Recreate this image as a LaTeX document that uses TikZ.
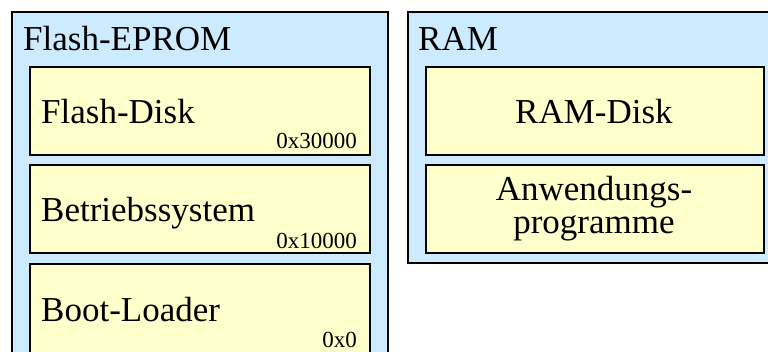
\documentclass[tikz,border=0pt]{standalone}
\usepackage{fontspec}
\setmainfont{Liberation Serif}
\definecolor{memblue}{HTML}{CCEBFF}
\definecolor{partyellow}{HTML}{FFFFCC}
\tikzset{
  memory/.style={draw=black, line width=1.6pt, fill=memblue, anchor=north west, inner sep=0pt},
  part/.style={draw=black, line width=1.6pt, fill=partyellow, anchor=north west, inner sep=0pt, minimum width=340pt, minimum height=88pt},
  big/.style={font=\fontsize{35}{36}\selectfont, inner sep=0pt},
  addr/.style={font=\fontsize{23}{24}\selectfont, inner sep=0pt, anchor=base east},
}

\begin{document}
\begin{tikzpicture}[x=1pt, y=-1pt]
  \useasboundingbox (0, 0) rectangle (768, 351);
  \clip (0, 0) rectangle (768, 351);

  \node (flash) at (11, 11) [memory, minimum width=376pt, minimum height=400pt] {};
  \node (ram) at (407, 11) [memory, minimum width=380pt, minimum height=251pt] {};

  \node (disk) at (29, 66) [part] {};
  \node (os) at (29, 164) [part] {};
  \node (boot) at (29, 263) [part, minimum height=90pt] {};
  \node (ramdisk) at (425, 66) [part, minimum width=338pt] {};
  \node (apps) at (425, 164) [part, minimum width=338pt] {};

  \node (flashlabel) at (23, 50) [big, anchor=base west] {Flash-EPROM};
  \node (ramlabel) at (418, 50) [big, anchor=base west] {RAM};

  \node (disklabel) at (41, 123) [big, anchor=base west] {Flash-Disk};
  \node (oslabel) at (41, 221) [big, anchor=base west] {Betriebssystem};
  \node (bootlabel) at (41, 321) [big, anchor=base west] {Boot-Loader};
  \node (diskaddr) at (357, 148) [addr] {0x30000};
  \node (osaddr) at (357, 248) [addr] {0x10000};
  \node (bootaddr) at (357, 347) [addr] {0x0};

  \node (ramdisklabel) at (594, 123) [big, anchor=base] {RAM-Disk};
  \node (appslabel) at (594, 200) [big, anchor=base] {Anwendungs-};
  \node (appslabel2) at (594, 233) [big, anchor=base] {programme};
\end{tikzpicture}
\end{document}
